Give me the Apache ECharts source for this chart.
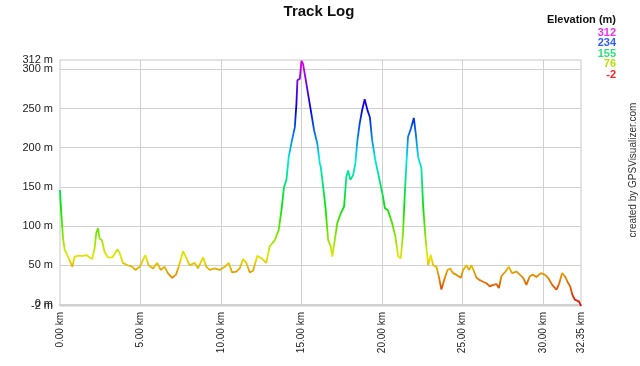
<!DOCTYPE html>
<html><head><meta charset="utf-8">
<script src="https://cdn.jsdelivr.net/npm/echarts@6/dist/echarts.min.js"></script>
<style>html,body{margin:0;padding:0;background:#fff}#c{width:640px;height:366px}</style>
</head><body><div id="c"></div>
<script>
// distance along the track (km)
const distKm = [0,0.04,0.19,0.29,0.5,0.77,0.9,1.12,1.43,1.64,1.84,2.0,2.15,2.25,2.36,2.46,2.6,2.77,2.98,3.25,3.56,3.7,3.9,4.2,4.5,4.68,4.95,5.3,5.5,5.78,6.04,6.25,6.5,6.7,6.97,7.2,7.37,7.64,7.85,8.05,8.16,8.37,8.57,8.88,9.09,9.3,9.6,9.92,10.23,10.48,10.68,10.95,11.16,11.37,11.57,11.78,11.99,12.25,12.5,12.81,13.02,13.34,13.58,13.75,13.91,14.06,14.2,14.41,14.58,14.68,14.74,14.89,14.99,15.09,15.2,15.4,15.57,15.78,15.98,16.13,16.19,16.34,16.48,16.65,16.81,16.91,17.06,17.22,17.43,17.64,17.78,17.89,18.03,18.2,18.34,18.47,18.61,18.76,18.92,19.09,19.24,19.38,19.58,19.8,20.06,20.17,20.37,20.62,20.83,21.0,21.16,21.3,21.41,21.51,21.61,21.78,21.97,22.09,22.24,22.44,22.55,22.69,22.86,23.02,23.17,23.37,23.52,23.68,23.85,24.06,24.22,24.4,24.6,24.72,24.89,25.03,25.24,25.39,25.55,25.71,25.86,26.07,26.27,26.48,26.69,26.89,27.1,27.25,27.41,27.66,27.87,28.07,28.34,28.55,28.76,28.96,29.17,29.38,29.58,29.86,30.1,30.31,30.56,30.83,31.0,31.18,31.35,31.51,31.68,31.82,31.97,32.07,32.22,32.35];
// elevation (m)
const elevM = [146,129,84,70,61,48,61,62,62,63,60,58,72,91,97,84,82,67,60,60,70,66,53,50,48,44,48,63,50,46,53,44,48,40,34,38,48,68,59,50,48,53,46,60,48,44,46,44,48,53,41,42,46,58,53,41,43,62,59,53,74,82,95,120,150,159,188,210,226,256,286,288,311,307,294,269,248,222,205,180,176,150,125,82,74,61,82,104,116,125,163,171,159,165,180,210,231,248,262,248,239,210,184,163,137,123,120,104,86,61,59,91,142,180,214,224,238,218,188,174,125,86,50,63,50,48,36,19,31,44,46,40,38,40,34,44,50,44,50,42,34,31,29,27,23,25,26,21,36,42,48,40,42,38,34,25,36,38,35,40,38,34,25,19,27,40,36,29,23,12,6,8,4,-2];
// axis ticks
const yLabelValues = [0,50,100,150,200,250,300];
const yExtentLabels = [-2,312];
const yGridValues = [0,50,100,150,200,250,300];
const xLabelValues = [0,5,10,15,20,25,30,32.35];
const xGridValues = [5,10,15,20,25,30];
// legend
const legendValues = ['312','234','155','76','-2'];
const legendColors = ['#f030f0','#2f5cff','#2fe07a','#b8e000','#ff2020'];

const hueColors = ['#e60000','#e67300','#e6e600','#73e600','#00e600','#00e673','#00e6e6','#0073e6','#0000e6','#7300e6','#e600e6'];

const chart = echarts.init(document.getElementById('c'), null, {renderer:'canvas'});
const data = distKm.map((d,i)=>[d, elevM[i]]);
const FONT = 'Liberation Sans, Arial, sans-serif';

const graphics = [
  {type:'text', x:319, y:4, style:{text:'Track Log', font:'bold 15px '+FONT, fill:'#111', align:'center', verticalAlign:'top'}},
  {type:'text', right:24, top:14, style:{text:'Elevation (m)', font:'bold 11px '+FONT, fill:'#111'}},
  {type:'text', x:633, y:170, rotation:Math.PI/2, style:{text:'created by GPSVisualizer.com', font:'10px '+FONT, fill:'#333', align:'center', verticalAlign:'middle'}}
];
legendValues.forEach((v,i)=>{
  graphics.push({type:'text', x:616, y:27+i*10.5, style:{text:v, font:'bold 11px '+FONT, fill:legendColors[i], align:'right', verticalAlign:'top'}});
});

const yLabelStyle = {margin:7, fontSize:11, fontFamily:FONT, color:'#222', hideOverlap:false, showMinLabel:true, showMaxLabel:true, formatter:v=>v+' m'};

chart.setOption({
  animation:false,
  backgroundColor:'#fff',
  grid:{left:60, right:59, top:60, bottom:60, show:true, borderColor:'#c8c8c8', borderWidth:1},
  xAxis:{type:'value', min:0, max:32.35,
    axisLine:{show:true, lineStyle:{color:'#d0d0d0', width:2}},
    axisTick:{show:false, customValues:xGridValues},
    splitLine:{show:true, lineStyle:{color:'#d0d0d0', width:1}},
    axisLabel:{customValues:xLabelValues, rotate:90, margin:6, fontSize:10, fontFamily:FONT, color:'#222',
      hideOverlap:false, showMinLabel:true, showMaxLabel:true,
      formatter:v=>v.toFixed(2)+' km'}},
  yAxis:[
    {type:'value', min:-2, max:312, position:'left',
      axisLine:{show:false},
      axisTick:{show:false, customValues:yGridValues},
      splitLine:{show:true, lineStyle:{color:'#d0d0d0', width:1}},
      axisLabel:Object.assign({customValues:yLabelValues}, yLabelStyle)},
    {type:'value', min:-2, max:312, position:'left', offset:0,
      axisLine:{show:false},
      axisTick:{show:false, customValues:yExtentLabels},
      splitLine:{show:false},
      axisLabel:Object.assign({customValues:yExtentLabels}, yLabelStyle)}
  ],
  visualMap:{show:false, type:'continuous', seriesIndex:0, dimension:1, min:-2, max:312, inRange:{color:hueColors}},
  series:[{type:'line', yAxisIndex:0, data:data, symbol:'none', lineStyle:{width:1.8}, smooth:false}],
  graphic:graphics
});
</script></body></html>
